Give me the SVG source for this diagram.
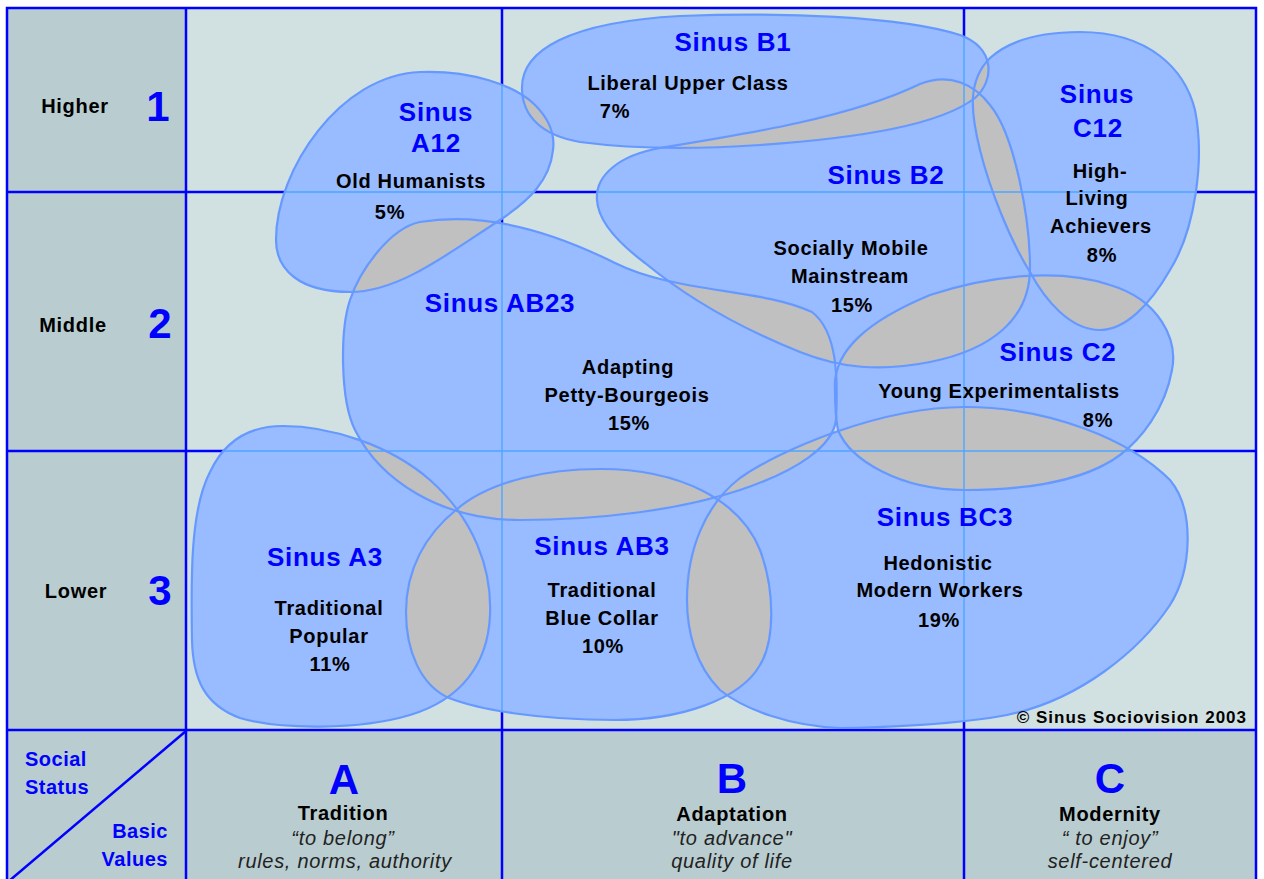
<svg xmlns="http://www.w3.org/2000/svg" width="1264" height="879" viewBox="0 0 1264 879">
<defs>
<style>
.fillS{fill:#99bbff;stroke:none}
.gray{fill:#c0c0c0;stroke:none}
.outline{fill:none;stroke:#6699ff;stroke-width:2.2}
.gd{stroke:#0000ff;stroke-width:2.5;fill:none}
.gi{stroke:#4da6ff;stroke-width:1.4;fill:none}
text{font-family:"Liberation Sans",Arial,Helvetica,sans-serif}
.lbl{font-weight:bold;font-size:20px;fill:#000;text-anchor:middle;letter-spacing:0.7px}
.hd{font-weight:bold;font-size:26px;fill:#0000ff;text-anchor:middle;letter-spacing:0.7px}
.num{font-weight:bold;font-size:42px;fill:#0000ff;text-anchor:middle}
.row{font-weight:bold;font-size:20px;fill:#000;text-anchor:middle;letter-spacing:0.7px}
.ax{font-weight:bold;font-size:20px;fill:#0000ff;letter-spacing:0.5px}
.it{font-style:italic;font-size:20px;fill:#222;text-anchor:middle;letter-spacing:0.7px}
.cp{font-weight:bold;font-size:17px;fill:#000;letter-spacing:1px;text-anchor:end}
</style>
<path id="pA12" d="M 420,72 C 470,70 515,85 535,105 C 550,120 555,135 553,150 C 550,180 530,200 500,220 C 450,252 400,292 350,292 C 300,292 276,270 276,240 C 276,170 340,75 420,72 Z"/>
<path id="pB1" d="M 522,90 C 520,50 570,22 680,16 C 780,12 900,16 960,35 C 995,48 995,80 975,98 C 940,125 860,138 760,145 C 700,149 640,150 580,142 C 540,135 523,115 522,90 Z"/>
<path id="pC12" d="M 1080,32 C 1150,32 1185,70 1195,110 C 1205,160 1195,230 1170,270 C 1150,305 1125,330 1100,330 C 1070,330 1045,300 1030,272 C 1010,240 990,190 980,150 C 970,110 968,80 990,58 C 1010,40 1040,32 1080,32 Z"/>
<path id="pB2" d="M 597,200 C 595,175 620,155 660,148 C 740,135 850,118 920,84 C 950,72 975,85 990,105 C 1015,135 1030,220 1030,268 C 1030,320 990,350 930,362 C 880,372 840,368 800,352 C 740,328 690,300 645,263 C 617,242 598,220 597,200 Z"/>
<path id="pAB23" d="M 420,222 C 480,212 545,228 615,263 C 675,293 760,288 812,312 C 838,332 838,380 836,420 C 833,445 800,470 740,490 C 680,510 600,520 520,520 C 440,520 380,480 355,430 C 340,400 340,330 350,300 C 360,270 390,228 420,222 Z"/>
<path id="pC2" d="M 835,390 C 832,350 870,320 930,295 C 990,275 1060,268 1110,285 C 1160,300 1178,340 1172,370 C 1165,410 1140,440 1120,455 C 1080,485 1010,490 965,490 C 900,490 850,460 838,430 C 835,415 835,400 835,390 Z"/>
<path id="pA3" d="M 283,426 C 330,426 390,445 430,480 C 475,520 492,570 490,615 C 488,665 460,700 410,715 C 360,730 280,730 240,718 C 205,705 193,680 192,640 C 191,580 190,510 210,472 C 225,440 250,426 283,426 Z"/>
<path id="pAB3" d="M 456,510 C 490,480 550,469 600,469 C 680,469 740,500 760,550 C 775,590 775,640 760,665 C 740,700 680,720 614,720 C 540,720 480,710 449,698 C 420,685 406,650 406,612 C 406,570 425,535 456,510 Z"/>
<path id="pBC3" d="M 687,600 C 687,550 705,505 740,478 C 780,450 880,407 965,407 C 1050,407 1130,440 1170,480 C 1195,510 1192,570 1170,605 C 1140,650 1080,700 1007,715 C 960,724 880,728 840,728 C 790,726 745,710 720,690 C 695,665 687,630 687,600 Z"/>
<clipPath id="cA12"><use href="#pA12"/></clipPath>
<clipPath id="cB1"><use href="#pB1"/></clipPath>
<clipPath id="cC12"><use href="#pC12"/></clipPath>
<clipPath id="cB2"><use href="#pB2"/></clipPath>
<clipPath id="cAB23"><use href="#pAB23"/></clipPath>
<clipPath id="cC2"><use href="#pC2"/></clipPath>
<clipPath id="cA3"><use href="#pA3"/></clipPath>
<clipPath id="cAB3"><use href="#pAB3"/></clipPath>
<clipPath id="cAll">
<use href="#pA12"/><use href="#pB1"/><use href="#pC12"/><use href="#pB2"/><use href="#pAB23"/><use href="#pC2"/><use href="#pA3"/><use href="#pAB3"/><use href="#pBC3"/>
</clipPath>
</defs>

<rect x="0" y="0" width="1264" height="879" fill="#ffffff"/>
<g id="panels">
<rect x="7" y="8" width="1249" height="871" fill="#d1e0e1"/>
<rect x="7" y="8" width="179" height="722" fill="#b9cdd0"/>
<rect x="7" y="730" width="1249" height="149" fill="#b9cdd0"/>
</g>

<g id="grid" class="gd">
<rect x="7" y="8" width="1249" height="880"/>
<line x1="186" y1="8" x2="186" y2="879"/>
<line x1="502" y1="8" x2="502" y2="879"/>
<line x1="964" y1="8" x2="964" y2="879"/>
<line x1="7" y1="192" x2="1256" y2="192"/>
<line x1="7" y1="451" x2="1256" y2="451"/>
<line x1="7" y1="730" x2="1256" y2="730"/>
<line x1="186" y1="731" x2="9" y2="881"/>
</g>

<g id="segment-fills">
<use href="#pA12" class="fillS"/>
<use href="#pB1" class="fillS"/>
<use href="#pC12" class="fillS"/>
<use href="#pB2" class="fillS"/>
<use href="#pAB23" class="fillS"/>
<use href="#pC2" class="fillS"/>
<use href="#pA3" class="fillS"/>
<use href="#pAB3" class="fillS"/>
<use href="#pBC3" class="fillS"/>
</g>

<g id="overlaps">
<use href="#pB1" class="gray" clip-path="url(#cA12)"/>
<use href="#pAB23" class="gray" clip-path="url(#cA12)"/>
<use href="#pB2" class="gray" clip-path="url(#cB1)"/>
<use href="#pC12" class="gray" clip-path="url(#cB1)"/>
<use href="#pC12" class="gray" clip-path="url(#cB2)"/>
<use href="#pAB23" class="gray" clip-path="url(#cB2)"/>
<use href="#pC2" class="gray" clip-path="url(#cB2)"/>
<use href="#pC2" class="gray" clip-path="url(#cC12)"/>
<use href="#pC2" class="gray" clip-path="url(#cAB23)"/>
<use href="#pBC3" class="gray" clip-path="url(#cAB23)"/>
<use href="#pAB3" class="gray" clip-path="url(#cAB23)"/>
<use href="#pA3" class="gray" clip-path="url(#cAB23)"/>
<use href="#pAB3" class="gray" clip-path="url(#cA3)"/>
<use href="#pBC3" class="gray" clip-path="url(#cAB3)"/>
<use href="#pBC3" class="gray" clip-path="url(#cC2)"/>
</g>

<g id="grid-inner" class="gi" clip-path="url(#cAll)">
<line x1="502" y1="8" x2="502" y2="730"/>
<line x1="964" y1="8" x2="964" y2="730"/>
<line x1="186" y1="192" x2="1256" y2="192"/>
<line x1="186" y1="451" x2="1256" y2="451"/>
</g>

<g id="axis-labels">
<text class="row" x="75" y="113">Higher</text>
<text class="num" x="158" y="121">1</text>
<text class="row" x="73" y="332">Middle</text>
<text class="num" x="160" y="338">2</text>
<text class="row" x="76" y="598">Lower</text>
<text class="num" x="160" y="605">3</text>
<text class="ax" x="25" y="766">Social</text>
<text class="ax" x="25" y="794">Status</text>
<text class="ax" x="168" y="838" text-anchor="end">Basic</text>
<text class="ax" x="168" y="866" text-anchor="end">Values</text>
</g>

<g id="col-A">
<text class="num" x="344" y="794">A</text>
<text class="lbl" x="343" y="820">Tradition</text>
<text class="it" x="343" y="845">“to belong”</text>
<text class="it" x="345" y="868">rules, norms, authority</text>
</g>
<g id="col-B">
<text class="num" x="732" y="793">B</text>
<text class="lbl" x="732" y="821">Adaptation</text>
<text class="it" x="732" y="845">"to advance"</text>
<text class="it" x="732" y="868">quality of life</text>
</g>
<g id="col-C">
<text class="num" x="1110" y="793">C</text>
<text class="lbl" x="1110" y="821">Modernity</text>
<text class="it" x="1110" y="845">“ to enjoy”</text>
<text class="it" x="1110" y="868">self-centered</text>
</g>

<g id="node-A12">
<use href="#pA12" class="outline"/>
<text class="hd" x="436" y="121">Sinus</text>
<text class="hd" x="436" y="152">A12</text>
<text class="lbl" x="411" y="188">Old Humanists</text>
<text class="lbl" x="390" y="219">5%</text>
</g>
<g id="node-B1">
<use href="#pB1" class="outline"/>
<text class="hd" x="733" y="51">Sinus B1</text>
<text class="lbl" x="688" y="90">Liberal Upper Class</text>
<text class="lbl" x="615" y="118">7%</text>
</g>
<g id="node-C12">
<use href="#pC12" class="outline"/>
<text class="hd" x="1097" y="103">Sinus</text>
<text class="hd" x="1098" y="137">C12</text>
<text class="lbl" x="1100" y="178">High-</text>
<text class="lbl" x="1097" y="205">Living</text>
<text class="lbl" x="1101" y="233">Achievers</text>
<text class="lbl" x="1102" y="262">8%</text>
</g>
<g id="node-B2">
<use href="#pB2" class="outline"/>
<text class="hd" x="886" y="184">Sinus B2</text>
<text class="lbl" x="851" y="255">Socially Mobile</text>
<text class="lbl" x="850" y="283">Mainstream</text>
<text class="lbl" x="852" y="312">15%</text>
</g>
<g id="node-AB23">
<use href="#pAB23" class="outline"/>
<text class="hd" x="500" y="312">Sinus AB23</text>
<text class="lbl" x="628" y="374">Adapting</text>
<text class="lbl" x="627" y="402">Petty-Bourgeois</text>
<text class="lbl" x="629" y="430">15%</text>
</g>
<g id="node-C2">
<use href="#pC2" class="outline"/>
<text class="hd" x="1058" y="361">Sinus C2</text>
<text class="lbl" x="999" y="398">Young Experimentalists</text>
<text class="lbl" x="1098" y="427">8%</text>
</g>
<g id="node-A3">
<use href="#pA3" class="outline"/>
<text class="hd" x="325" y="566">Sinus A3</text>
<text class="lbl" x="329" y="615">Traditional</text>
<text class="lbl" x="329" y="643">Popular</text>
<text class="lbl" x="330" y="671">11%</text>
</g>
<g id="node-AB3">
<use href="#pAB3" class="outline"/>
<text class="hd" x="602" y="555">Sinus AB3</text>
<text class="lbl" x="602" y="597">Traditional</text>
<text class="lbl" x="602" y="625">Blue Collar</text>
<text class="lbl" x="603" y="653">10%</text>
</g>
<g id="node-BC3">
<use href="#pBC3" class="outline"/>
<text class="hd" x="945" y="526">Sinus BC3</text>
<text class="lbl" x="938" y="570">Hedonistic</text>
<text class="lbl" x="940" y="597">Modern Workers</text>
<text class="lbl" x="939" y="627">19%</text>
</g>

<g id="credit">
<text class="cp" x="1247" y="723">© Sinus Sociovision 2003</text>
</g>
</svg>
